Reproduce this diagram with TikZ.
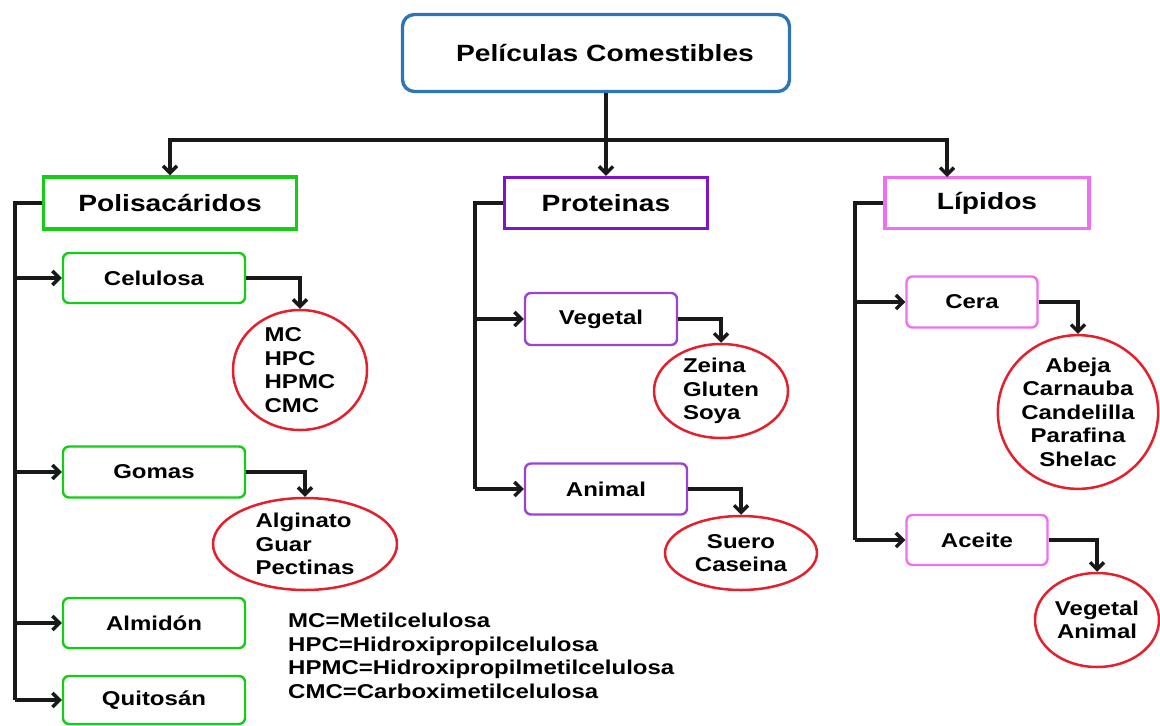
\documentclass[tikz,border=0pt]{standalone}
\usepackage{fontspec}
\setmainfont{Liberation Sans}[FakeStretch=1.2]
\usetikzlibrary{arrows.meta,shapes.geometric}

\definecolor{titblue}{RGB}{46,117,182}
\definecolor{polgreen}{RGB}{20,205,20}
\definecolor{propurple}{RGB}{130,20,200}
\definecolor{lippink}{RGB}{240,110,240}
\definecolor{elired}{RGB}{228,32,44}

\begin{document}
\begin{tikzpicture}[x=1pt,y=-1pt,
    txt/.style={font=\fontsize{20}{23.5}\selectfont\bfseries},
    mainbox/.style={draw,line width=3.4pt,inner sep=0pt,
      font=\fontsize{23.5}{27}\selectfont\bfseries},
    subbox/.style={draw,line width=2.4pt,rounded corners=6pt,inner sep=0pt,txt},
    group/.style={draw=elired,line width=2.5pt,ellipse,inner sep=0pt,txt},
    conn/.style={line width=3.4pt,black!90},
    arr/.style={conn,-{Straight Barb[length=7pt,width=14pt]}}]
        \useasboundingbox (0,0) rectangle (1160,726) ;
        % top level
        \node[mainbox,draw=titblue,rounded corners=12pt,minimum width=387pt,minimum height=77pt]
          (tit) at (596,53) {\hspace{18pt}Películas Comestibles} ;
        \node[mainbox,draw=polgreen,minimum width=253pt,minimum height=52pt]
          (pol) at (170,203) {Polisacáridos} ;
        \node[mainbox,draw=propurple,minimum width=203pt,minimum height=51pt]
          (pro) at (606,203) {Proteinas} ;
        \node[mainbox,draw=lippink,minimum width=204pt,minimum height=51pt]
          (lip) at (987,203) {Lípidos} ;
        \coordinate (bus) at (606,140) ;
        \coordinate (lipin) at (947,177) ;
        \draw[arr] (pro.north |- tit.south) -- (pro.north) ;
        \draw[arr] (bus) -| (pol.north) ;
        \draw[arr] (bus) -| (lipin) ;
        % polisacaridos
        \node[subbox,draw=polgreen,minimum width=182pt,minimum height=50pt] (cel) at (154,278) {Celulosa} ;
        \node[subbox,draw=polgreen,minimum width=182pt,minimum height=51pt] (gom) at (154,472) {Gomas} ;
        \node[subbox,draw=polgreen,minimum width=182pt,minimum height=50pt] (alm) at (154,623) {Almidón} ;
        \node[subbox,draw=polgreen,minimum width=182pt,minimum height=48pt] (qui) at (154,700) {Quitosán} ;
        \node[group,minimum width=134pt,minimum height=120pt,align=left] (celg) at (300,370) {MC\\HPC\\HPMC\\CMC} ;
        \node[group,minimum width=184pt,minimum height=92pt,align=left] (gomg) at (305,544) {Alginato\\Guar\\Pectinas} ;
        \coordinate (poltr) at (15,203) ;
        \draw[conn] (pol.west) -- (poltr) -- (poltr |- qui.west) ;
        \draw[arr] (poltr |- cel.west) -- (cel.west) ;
        \draw[arr] (poltr |- gom.west) -- (gom.west) ;
        \draw[arr] (poltr |- alm.west) -- (alm.west) ;
        \draw[arr] (poltr |- qui.west) -- (qui.west) ;
        \draw[arr] (cel.east) -| (celg.north) ;
        \draw[arr] (gom.east) -| (gomg.north) ;
        \node[txt,anchor=north west,inner sep=0pt,align=left] (abbr) at (288,613)
          {MC=Metilcelulosa\\HPC=Hidroxipropilcelulosa\\HPMC=Hidroxipropilmetilcelulosa\\CMC=Carboximetilcelulosa} ;
        % proteinas
        \node[subbox,draw=propurple!80,minimum width=152pt,minimum height=52pt] (veg) at (601,319) {Vegetal} ;
        \node[subbox,draw=propurple!80,minimum width=162pt,minimum height=51pt] (ani) at (606,489) {Animal} ;
        \node[group,minimum width=134pt,minimum height=94pt,align=left] (vegg) at (721,391) {Zeina\\Gluten\\Soya} ;
        \node[group,minimum width=152pt,minimum height=74pt,align=center] (anig) at (741,553) {Suero\\Caseina} ;
        \coordinate (protr) at (475,203) ;
        \draw[conn] (pro.west) -- (protr) -- (protr |- ani.west) ;
        \draw[arr] (protr |- veg.west) -- (veg.west) ;
        \draw[arr] (protr |- ani.west) -- (ani.west) ;
        \draw[arr] (veg.east) -| (vegg.north) ;
        \draw[arr] (ani.east) -| (anig.north) ;
        % lipidos
        \node[subbox,draw=lippink,minimum width=131pt,minimum height=51pt] (cer) at (972,302) {Cera} ;
        \node[subbox,draw=lippink,minimum width=141pt,minimum height=50pt] (ace) at (977,540) {Aceite} ;
        \node[group,minimum width=160pt,minimum height=151pt,align=center] (cerg) at (1078,412)
          {Abeja\\Carnauba\\Candelilla\\Parafina\\Shelac} ;
        \node[group,minimum width=124pt,minimum height=94pt,align=center] (aceg) at (1097,620) {Vegetal\\Animal} ;
        \coordinate (liptr) at (855,203) ;
        \draw[conn] (lip.west) -- (liptr) -- (liptr |- ace.west) ;
        \draw[arr] (liptr |- cer.west) -- (cer.west) ;
        \draw[arr] (liptr |- ace.west) -- (ace.west) ;
        \draw[arr] (cer.east) -| (cerg.north) ;
        \draw[arr] (ace.east) -| (aceg.north) ;
\end{tikzpicture}
\end{document}
